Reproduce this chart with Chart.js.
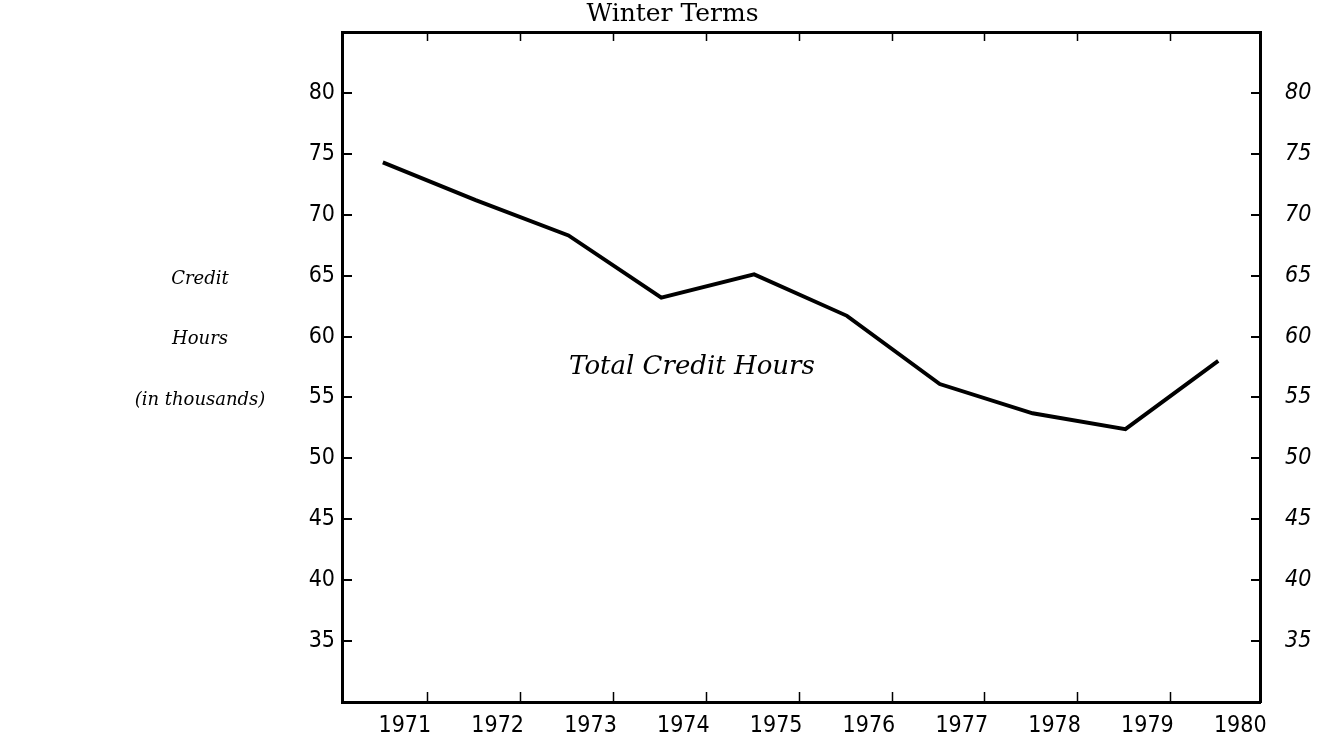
<!DOCTYPE html>
<html>
<head>
<meta charset="utf-8">
<script src="https://cdn.jsdelivr.net/npm/chart.js@4"></script>
<style>
  html, body { margin: 0; padding: 0; background: #fff; }
  #wrap { width: 1339px; height: 743px; }
</style>
</head>
<body>
<div id="wrap"><canvas id="c" width="1339" height="743"></canvas></div>
<script>
// ---- data ----
const years = [1971, 1972, 1973, 1974, 1975, 1976, 1977, 1978, 1979, 1980];
const creditHours = [74.3, 71.2, 68.3, 63.2, 65.1, 61.7, 56.1, 53.7, 52.4, 58.0];
const yTickValues = [35, 40, 45, 50, 55, 60, 65, 70, 75, 80];
const chartTitle = 'Winter Terms';
const seriesLabel = 'Total Credit Hours';
const yTitleLines = ['Credit', 'Hours', '(in thousands)'];

// ---- layout / style ----
const X_MIN = 1970.56, X_MAX = 1980.45;
const Y_MIN = 30, Y_MAX = 85;
const sansFamily = '"DejaVu Sans Condensed", "Noto Sans", "DejaVu Sans", sans-serif';
const tickFont = { family: sansFamily, size: 23 };
const serif = '"DejaVu Serif", "Liberation Serif", serif';

const inwardTicks = {
  id: 'inwardTicks',
  afterDraw(chart) {
    const ctx = chart.ctx;
    const a = chart.chartArea;
    const xs = chart.scales.x, ys = chart.scales.y;
    ctx.save();
    ctx.strokeStyle = '#000';
    ctx.lineWidth = 1.5;
    years.forEach(v => {
      const val = v + 0.48;
      if (val >= X_MAX) return;
      const px = Math.round(xs.getPixelForValue(val)) + 0.5;
      ctx.beginPath();
      ctx.moveTo(px, a.bottom); ctx.lineTo(px, a.bottom - 10);
      ctx.moveTo(px, a.top); ctx.lineTo(px, a.top + 9);
      ctx.stroke();
    });
    ctx.lineWidth = 2;
    yTickValues.forEach(v => {
      const py = Math.round(ys.getPixelForValue(v));
      ctx.beginPath();
      ctx.moveTo(a.left, py); ctx.lineTo(a.left + 10, py);
      ctx.moveTo(a.right, py); ctx.lineTo(a.right - 9, py);
      ctx.stroke();
    });
    ctx.fillStyle = '#000';
    ctx.textBaseline = 'middle';
    ctx.textAlign = 'center';
    ctx.font = '25px ' + serif;
    ctx.fillText(chartTitle, a.left + (a.right - a.left) * 0.36, 14);

    ctx.font = 'italic 26px ' + serif;
    ctx.fillText(seriesLabel, xs.getPixelForValue(1974.33), ys.getPixelForValue(57.46));

    ctx.font = 'italic 18px ' + serif;
    const ty = [64.7, 59.8, 54.8].map(v => ys.getPixelForValue(v));
    yTitleLines.forEach((t, i) => ctx.fillText(t, 200, ty[i]));
    ctx.restore();
  }
};

const noPad = s => { s.paddingTop = 0; s.paddingBottom = 0; };

new Chart(document.getElementById('c'), {
  type: 'line',
  data: {
    datasets: [{
      label: seriesLabel,
      data: years.map((yr, i) => ({ x: yr, y: creditHours[i] })),
      borderColor: '#000',
      borderWidth: 3.9,
      borderJoinStyle: 'miter',
      pointRadius: 0,
      tension: 0,
      fill: false
    }]
  },
  options: {
    responsive: false,
    animation: false,
    devicePixelRatio: 1,
    layout: { padding: 0 },
    plugins: { legend: { display: false }, title: { display: false }, tooltip: { enabled: false } },
    scales: {
      x: {
        type: 'linear', position: 'bottom', min: X_MIN, max: X_MAX,
        afterBuildTicks: s => { s.ticks = years.map(v => ({ value: v })); },
        ticks: { color: '#000', font: tickFont, labelOffset: 22, padding: 10,
                 autoSkip: false, maxRotation: 0, callback: v => String(v) },
        grid: { display: false, drawTicks: false },
        border: { display: true, color: '#000', width: 3 },
        afterFit: s => { s.height = 41; s.paddingLeft = 0; s.paddingRight = 0; }
      },
      x2: {
        type: 'linear', position: 'top', min: X_MIN, max: X_MAX,
        ticks: { display: false },
        grid: { display: false, drawTicks: false },
        border: { display: true, color: '#000', width: 3 },
        afterFit: s => { s.height = 32; s.paddingLeft = 0; s.paddingRight = 0; }
      },
      y: {
        type: 'linear', position: 'left', min: Y_MIN, max: Y_MAX,
        afterBuildTicks: s => { s.ticks = yTickValues.map(v => ({ value: v })); },
        ticks: { color: '#000', font: tickFont, padding: 7, callback: v => String(v) },
        grid: { display: false, drawTicks: false },
        border: { display: true, color: '#000', width: 3 },
        afterFit: s => { s.width = 342; noPad(s); }
      },
      y2: {
        type: 'linear', position: 'right', min: Y_MIN, max: Y_MAX,
        afterBuildTicks: s => { s.ticks = yTickValues.map(v => ({ value: v })); },
        ticks: { color: '#000', font: { family: sansFamily, size: 23, style: 'italic' }, padding: 25,
                 callback: v => String(v) },
        grid: { display: false, drawTicks: false },
        border: { display: true, color: '#000', width: 3 },
        afterFit: s => { s.width = 79; noPad(s); }
      }
    }
  },
  plugins: [inwardTicks]
});
</script>
</body>
</html>
